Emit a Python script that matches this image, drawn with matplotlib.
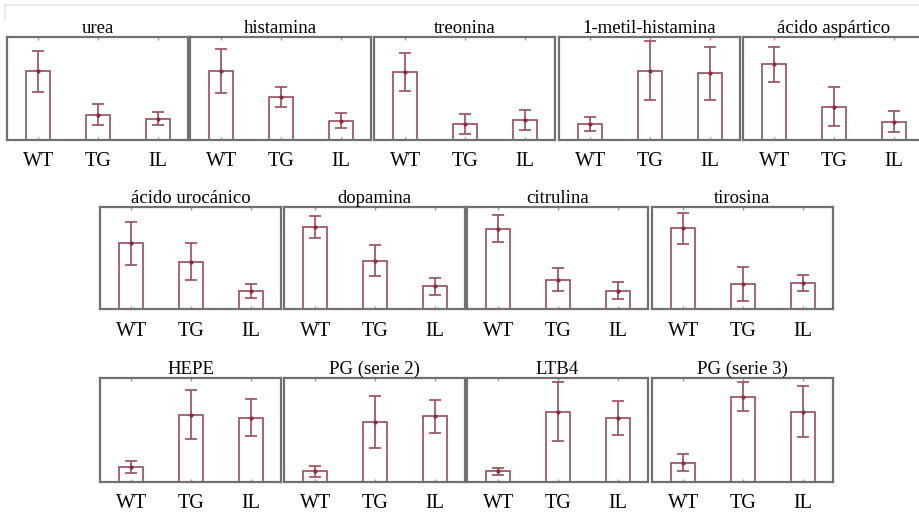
import matplotlib.pyplot as plt
import numpy as np

plt.rcParams['font.family'] = ['Liberation Serif', 'DejaVu Serif']

groups = ['WT', 'TG', 'IL']

# row 1
titles_r1 = ['urea', 'histamina', 'treonina', '1-metil-histamina', 'ácido aspártico']
means_r1 = [[0.667, 0.246, 0.207],
            [0.670, 0.414, 0.187],
            [0.660, 0.155, 0.194],
            [0.155, 0.673, 0.647],
            [0.735, 0.323, 0.178]]
errs_r1 = [[0.20, 0.105, 0.065],
           [0.21, 0.097, 0.075],
           [0.18, 0.100, 0.094],
           [0.07, 0.285, 0.256],
           [0.168, 0.19, 0.10]]

# row 2
titles_r2 = ['ácido urocánico', 'dopamina', 'citrulina', 'tirosina']
means_r2 = [[0.644, 0.464, 0.180],
            [0.800, 0.474, 0.222],
            [0.787, 0.288, 0.180],
            [0.791, 0.248, 0.255]]
errs_r2 = [[0.21, 0.18, 0.07],
           [0.108, 0.153, 0.08],
           [0.13, 0.11, 0.08],
           [0.153, 0.167, 0.078]]

# row 3
titles_r3 = ['HEPE', 'PG (serie 2)', 'LTB4', 'PG (serie 3)']
means_r3 = [[0.145, 0.645, 0.619],
            [0.103, 0.577, 0.632],
            [0.103, 0.677, 0.613],
            [0.187, 0.822, 0.677]]
errs_r3 = [[0.055, 0.235, 0.18],
           [0.052, 0.25, 0.16],
           [0.032, 0.28, 0.165],
           [0.078, 0.14, 0.245]]

W, H = 919, 519
fig = plt.figure(figsize=(W / 100, H / 100), dpi=100)

bar_col = '#9a4c5c'
frame_col = '#707070'

# faint scan border at top/left
fig.add_artist(plt.Line2D([5 / W, 1], [1 - 5 / H, 1 - 5 / H], color='#e8e8e8', lw=1.2))
fig.add_artist(plt.Line2D([5 / W, 5 / W], [1 - 5 / H, 1 - 20 / H], color='#e8e8e8', lw=1.2))


def panel(x0, x1, y0, y1, title, means, errs):
    ax = fig.add_axes([x0 / W, 1 - y1 / H, (x1 - x0) / W, (y1 - y0) / H])
    x = np.arange(3)
    ax.bar(x, means, width=0.4, facecolor='white', edgecolor=bar_col, linewidth=1.2)
    ax.errorbar(x, means, yerr=errs, fmt='o', ms=2, color='#8a2a3c', ecolor=bar_col,
                elinewidth=1.2, capsize=4.3, capthick=1.2)
    ax.set_xlim(-0.52, 2.5)
    ax.set_ylim(0, 1)
    ax.set_yticks([])
    ax.set_xticks(x)
    ax.set_xticklabels(groups, fontsize=14.5)
    ax.tick_params(axis='x', length=2, width=1, color='#999999', direction='in',
                   top=True, pad=9)
    for s in ax.spines.values():
        s.set_color(frame_col)
        s.set_linewidth(1.6)
    ax.set_title(title, fontsize=13.5, pad=3)
    return ax


# row 1 layout (pixels)
r1_x = [7, 190, 374, 559, 743]
r1_w = 181
for i in range(5):
    panel(r1_x[i], r1_x[i] + r1_w, 37, 140, titles_r1[i], means_r1[i], errs_r1[i])

r23_x = [100, 284, 467, 652]
r23_w = 181
for i in range(4):
    panel(r23_x[i], r23_x[i] + r23_w, 207, 309, titles_r2[i], means_r2[i], errs_r2[i])
for i in range(4):
    panel(r23_x[i], r23_x[i] + r23_w, 378, 482, titles_r3[i], means_r3[i], errs_r3[i])

fig.savefig('out.png', dpi=100)
